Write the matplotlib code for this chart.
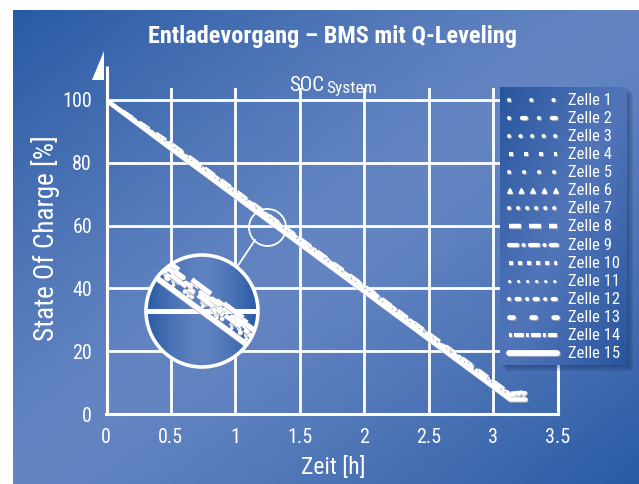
import numpy as np
import matplotlib
matplotlib.use("Agg")
import matplotlib.pyplot as plt
from matplotlib import patheffects as pe
from matplotlib import font_manager as fm
from matplotlib.patches import Circle, Rectangle, Polygon

# ---------------------------------------------------------------- data
time_h = [0.0, 0.5, 1.0, 1.5, 2.0, 2.5, 3.0, 3.13, 3.25]

soc_zelle_1 = [100, 85.8, 70.8, 55.4, 40.5, 25.2, 10.0, 6.2, 6.6]
soc_zelle_2 = [100, 85.4, 70.2, 55.0, 39.9, 24.7, 9.5, 5.8, 6.4]
soc_zelle_3 = [100, 85.1, 69.9, 54.8, 39.6, 24.4, 9.2, 5.4, 6.0]
soc_zelle_4 = [100, 86.1, 71.0, 55.9, 40.6, 25.5, 10.3, 6.4, 6.9]
soc_zelle_5 = [100, 85.0, 70.0, 54.7, 39.5, 24.3, 9.1, 5.3, 5.8]
soc_zelle_6 = [100, 85.6, 70.5, 55.3, 40.1, 25.0, 9.8, 6.0, 6.5]
soc_zelle_7 = [100, 85.2, 70.1, 54.9, 39.7, 24.5, 9.3, 5.5, 6.1]
soc_zelle_8 = [100, 86.3, 71.3, 56.0, 40.9, 25.7, 10.5, 6.6, 7.0]
soc_zelle_9 = [100, 85.9, 70.7, 55.6, 40.4, 25.2, 10.1, 6.2, 6.8]
soc_zelle_10 = [100, 85.3, 70.3, 55.1, 39.8, 24.6, 9.4, 5.6, 6.2]
soc_zelle_11 = [100, 84.9, 69.8, 54.6, 39.4, 24.2, 9.0, 5.1, 5.6]
soc_zelle_12 = [100, 85.7, 70.6, 55.5, 40.3, 25.1, 9.9, 6.1, 6.7]
soc_zelle_13 = [100, 86.0, 70.9, 55.7, 40.7, 25.4, 10.2, 6.3, 7.0]
soc_zelle_14 = [100, 85.5, 70.4, 55.2, 40.0, 24.8, 9.6, 5.9, 6.4]
soc_zelle_15 = [100, 84.6, 69.4, 54.2, 39.0, 23.8, 8.6, 4.6, 4.6]

zellen = [soc_zelle_1, soc_zelle_2, soc_zelle_3, soc_zelle_4, soc_zelle_5,
          soc_zelle_6, soc_zelle_7, soc_zelle_8, soc_zelle_9, soc_zelle_10,
          soc_zelle_11, soc_zelle_12, soc_zelle_13, soc_zelle_14, soc_zelle_15]
zellen_namen = [f"Zelle {i}" for i in range(1, 16)]

x_ticks = [0, 0.5, 1, 1.5, 2, 2.5, 3, 3.5]
x_tick_labels = ["0", "0.5", "1", "1.5", "2", "2.5", "3", "3.5"]
y_ticks = [0, 20, 40, 60, 80, 100]
y_tick_labels = ["0", "20", "40", "60", "80", "100"]

# ---------------------------------------------------------------- fonts
def pick_font(candidates):
    """First family with static regular and bold faces installed."""
    for fam in candidates:
        faces = [f for f in fm.fontManager.ttflist if f.name == fam and "[" not in f.fname]
        weights = {f.weight if isinstance(f.weight, int) else 400 for f in faces}
        if any(w >= 600 for w in weights) and any(w <= 500 for w in weights):
            return fam
    return "Liberation Sans"


FONT = pick_font(["Nimbus Sans Narrow", "Liberation Sans Narrow", "Roboto Condensed",
                  "Open Sans Condensed", "PT Sans Narrow", "Archivo Narrow",
                  "Barlow Semi Condensed"])
plt.rcParams["font.family"] = [FONT, "DejaVu Sans"]
plt.rcParams["lines.scale_dashes"] = False

# ---------------------------------------------------------------- line styles
# line width (pt), dash pattern (pt), cap style
styles = [
    dict(lw=3.0, dashes=(0.01, 16.0), cap="round"),
    dict(lw=3.0, dashes=(0.01, 9.3, 2.9, 9.3), cap="round"),
    dict(lw=3.0, dashes=(0.01, 8.3), cap="round"),
    dict(lw=2.9, dashes=(2.9, 7.9), cap="butt"),
    dict(lw=3.0, dashes=(0.01, 10.8), cap="round"),
    dict(lw=2.4, dashes=(0.01, 8.3), cap="round", tri=True),
    dict(lw=3.0, dashes=(0.01, 6.5), cap="round"),
    dict(lw=3.2, dashes=(8.6, 5.8), cap="butt"),
    dict(lw=3.0, dashes=(6.0, 4.5, 0.01, 4.5), cap="round"),
    dict(lw=2.9, dashes=(2.9, 3.6), cap="butt"),
    dict(lw=2.3, dashes=(0.01, 6.5), cap="round"),
    dict(lw=3.0, dashes=(0.01, 5.4, 2.2, 5.4), cap="round"),
    dict(lw=3.4, dashes=(2.9, 13.0), cap="round"),
    dict(lw=2.9, dashes=(2.0, 1.6, 7.0, 1.6), cap="butt"),
    dict(lw=4.2, dashes=None, cap="round"),
]

SHADOW = "#9aa5bd"


def shadow(off=(0.4, -0.7)):
    return [pe.SimpleLineShadow(offset=off, shadow_color=SHADOW, alpha=0.95), pe.Normal()]


def draw_line(axis, x, y, st, lw_scale=1.0, dash_scale=1.0, zorder=3, off=(0.4, -0.7)):
    kw = dict(color="white", lw=st["lw"] * lw_scale, zorder=zorder,
              solid_capstyle="round", path_effects=shadow(off))
    if st["dashes"] is not None:
        kw["dashes"] = tuple(d * dash_scale for d in st["dashes"])
        kw["dash_capstyle"] = st["cap"]
    return axis.plot(x, y, **kw)[0]


def diag_gradient(w, h, dark, light, power=1.3):
    yy, xx = np.mgrid[0:h, 0:w]
    u = xx / (w - 1)
    v = yy / (h - 1)
    t = 1 - np.abs(u + v - 1) ** power
    dark = np.array(dark, float)
    light = np.array(light, float)
    return (dark * (1 - t[..., None]) + light * t[..., None]) / 255


W, H = 639, 484
fig = plt.figure(figsize=(W / 100, H / 100), dpi=100, facecolor="white")

# ---------------------------------------------------------------- background
bg = fig.add_axes([0, 0, 1, 1], zorder=0)
bg.axis("off")
bg.imshow(diag_gradient(320, 240, (40, 90, 164), (100, 133, 194)),
          extent=(13, W, H, 10), aspect="auto", interpolation="bilinear")
bg.set_xlim(0, W)
bg.set_ylim(H, 0)

# ---------------------------------------------------------------- main axes
ax = fig.add_axes([106 / W, 1 - 414 / H, (558 - 106) / W, (414 - 88) / H], zorder=2)
ax.set_facecolor("none")
ax.set_xlim(0, 3.5)
ax.set_ylim(0, 103.8)
ax.set_xticks(x_ticks)
ax.set_xticklabels(x_tick_labels)
ax.set_yticks(y_ticks)
ax.set_yticklabels(y_tick_labels)
ax.tick_params(axis="both", length=0, colors="white", labelsize=14.5)
ax.tick_params(axis="x", pad=10)
ax.tick_params(axis="y", pad=10)
ax.grid(True, color="white", lw=2.0)
ax.set_axisbelow(True)
for s in ("top", "left"):
    ax.spines[s].set_visible(False)
for s in ("bottom", "right"):
    ax.spines[s].set_color("white")
    ax.spines[s].set_linewidth(2.2)

for soc, st in zip(zellen[:-1], styles[:-1]):
    draw_line(ax, time_h, soc, st, lw_scale=0.8, zorder=3)
draw_line(ax, time_h, zellen[-1], styles[-1], lw_scale=0.75, zorder=4)

# ---------------------------------------------------------------- overlay (pixel coords)
ov = fig.add_axes([0, 0, 1, 1], zorder=3)
ov.set_facecolor("none")
ov.axis("off")
ov.set_xlim(0, W)
ov.set_ylim(H, 0)

# y axis with arrow head
ov.plot([106.5, 106.5], [414, 66], color="white", lw=2.2, solid_capstyle="butt")
ov.add_patch(Polygon([(92, 80), (104, 80), (104, 51)], closed=True, fc="white", ec="none"))

ov.text(333, 37, "Entladevorgang – BMS mit Q-Leveling", ha="center", va="center",
        fontsize=17.5, weight="bold", color="white")
ov.text(289, 91, "SOC", ha="left", va="baseline", fontsize=15, color="white")
ov.text(326, 93, "System", ha="left", va="baseline", fontsize=12.5, color="white")
ov.text(333, 467, "Zeit [h]", ha="center", va="center", fontsize=17, color="white")
ov.text(46, 238, "State Of Charge [%]", ha="center", va="center", rotation=90,
        fontsize=19.5, color="white")

# magnifier marker on the curve and its connector
ov.add_patch(Circle((267.5, 227.5), 18.5, fill=False, ec="white", lw=1.3))
ov.plot([255, 237], [240, 267], color="white", lw=1.3)

# legend box
for k in range(4):
    ov.add_patch(Rectangle((500 + 1.5 * (k + 1), 87 + 1.5 * (k + 1)), 127, 278,
                           fc="#10224a", ec="none", alpha=0.10, zorder=1))
ov.imshow(diag_gradient(60, 120, (40, 86, 158), (82, 117, 185), power=1.1),
          extent=(500, 627, 365, 87), aspect="auto", interpolation="bilinear", zorder=2)
ov.set_xlim(0, W)
ov.set_ylim(H, 0)

for i, (name, st) in enumerate(zip(zellen_namen, styles)):
    yy = 100 + i * 18.07
    if st.get("tri"):
        xs = np.linspace(510, 556, 5)
        ov.plot(xs, [yy + 0.5] * 5, ls="none", marker="^", ms=3.4, mfc="white", mec="white",
                zorder=4, path_effects=shadow())
    else:
        draw_line(ov, [509, 557], [yy, yy], st, zorder=4)
    ov.text(568, yy + 0.5, name, ha="left", va="center", fontsize=12, color="white", zorder=5)

# ---------------------------------------------------------------- magnified view
xc, yc, M = 1.31, 60.0, 4.2
dx = 56 / (129.1 * M)
dy = 56 / (3.14 * M)
ins = fig.add_axes([146 / W, 1 - 367 / H, 112 / W, 112 / H], zorder=5)
ins.axis("off")
clip = Circle((0.5, 0.5), 0.5, transform=ins.transAxes)
xx = np.linspace(-1, 1, 200)
band = 1 - np.abs(xx) ** 1.5
col = (np.array([40, 90, 164.0]) * (1 - band[:, None])
       + np.array([96, 130, 192.0]) * band[:, None]) / 255
img = np.repeat(col[None, :, :], 10, axis=0)
im = ins.imshow(img, extent=(xc - dx, xc + dx, yc - dy, yc + dy), aspect="auto", zorder=0)
im.set_clip_path(clip)
hl = ins.axhline(60, color="white", lw=3.6, zorder=1)
hl.set_clip_path(clip)
for soc, st in zip(zellen[:-1], styles[:-1]):
    l = draw_line(ins, time_h, soc, st, lw_scale=1.1, dash_scale=2.0, zorder=2, off=(0.6, -1.0))
    l.set_clip_path(clip)
l = draw_line(ins, time_h, zellen[-1], styles[-1], lw_scale=0.95, zorder=3, off=(0.6, -1.0))
l.set_clip_path(clip)
ins.set_xlim(xc - dx, xc + dx)
ins.set_ylim(yc - dy, yc + dy)
ins.add_patch(Circle((0.5, 0.5), 0.5, transform=ins.transAxes, fill=False, ec="white",
                     lw=2.6, clip_on=False, zorder=10))

fig.savefig("out.png", dpi=100, facecolor="white")
